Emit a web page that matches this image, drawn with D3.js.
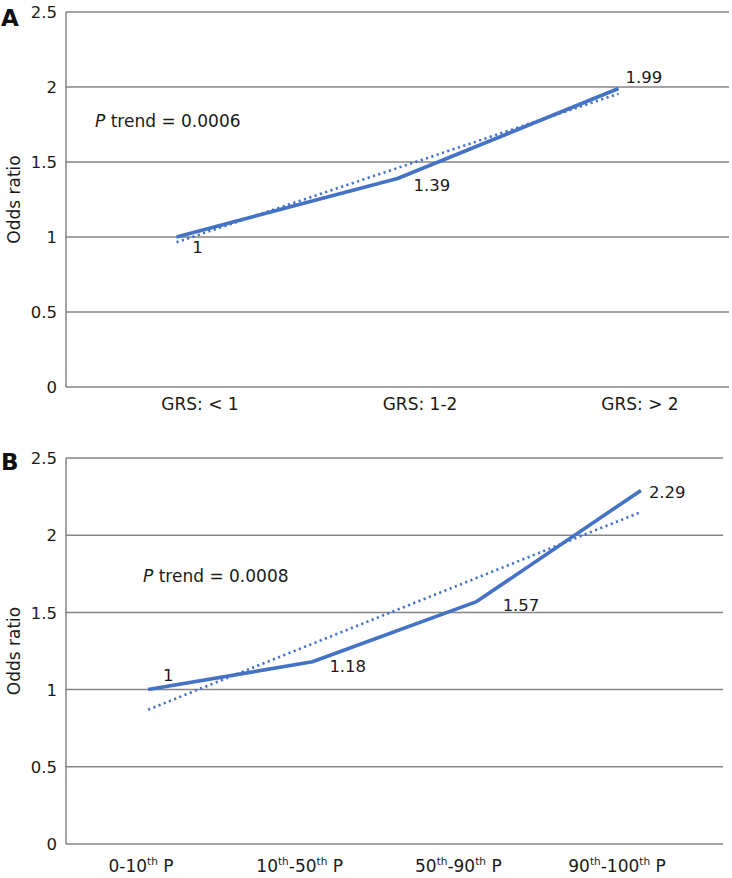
<!DOCTYPE html>
<html><head><meta charset="utf-8">
<script src="https://cdn.jsdelivr.net/npm/d3@7"></script>
<style>body{margin:0;background:#fff}svg{display:block}text{font-family:"DejaVu Sans",Verdana,sans-serif;fill:#1a1a1a}</style>
</head><body><svg id="c" width="732" height="878"></svg>
<script>
const yTicks = [0, 0.5, 1, 1.5, 2, 2.5];
const catsA = ["GRS: < 1", "GRS: 1-2", "GRS: > 2"];
const valsA = [1, 1.39, 1.99];
const trendA = [0.965, 1.955];
const pA = "0.0006";
const catsB = [["0-10", "th", " P"], ["10", "th", "-50", "th", " P"], ["50", "th", "-90", "th", " P"], ["90", "th", "-100", "th", " P"]];
const valsB = [1, 1.18, 1.57, 2.29];
const trendB = [0.87, 2.15];
const pB = "0.0008";

const svg = d3.select("#c");
const blue = "#4472C4", grid = "#858585";

function panel(cfg) {
  const g = svg.append("g");
  const n = cfg.cats.length;
  const x = d3.scalePoint().domain(d3.range(n)).range([cfg.x0 + (cfg.x1 - cfg.x0) / (2 * n), cfg.x1 - (cfg.x1 - cfg.x0) / (2 * n)]);
  const xl = d3.scalePoint().domain(d3.range(n)).range(cfg.labRange);
  const y = d3.scaleLinear().domain([0, 2.5]).range([cfg.yb, cfg.yt]);
  g.selectAll(".gl").data(yTicks).join("line")
    .attr("x1", cfg.x0).attr("x2", cfg.x1)
    .attr("y1", d => y(d)).attr("y2", d => y(d))
    .attr("stroke", grid).attr("stroke-width", 1.5);
  g.append("line").attr("x1", cfg.x0).attr("x2", cfg.x0).attr("y1", y(2.5)).attr("y2", y(0))
    .attr("stroke", grid).attr("stroke-width", 1.5);
  g.selectAll(".yt").data(yTicks).join("text")
    .attr("x", cfg.x0 - 9).attr("y", d => y(d)).attr("dy", "0.37em")
    .attr("text-anchor", "end").attr("font-size", 16.5).text(d => d);
  g.append("text").attr("transform", `translate(20,${(y(0) + y(2.5)) / 2}) rotate(-90)`)
    .attr("text-anchor", "middle").attr("font-size", 17).text("Odds ratio");
  g.append("text").attr("x", 1).attr("y", cfg.letterY).attr("font-size", 23).attr("font-weight", "bold")
    .style("fill", "#111").text(cfg.letter);
  cfg.cats.forEach((c, i) => {
    const t = g.append("text").attr("x", xl(i)).attr("y", cfg.labY).attr("text-anchor", "middle").attr("font-size", 17);
    if (typeof c === "string") { t.text(c); return; }
    let prevSup = false;
    c.forEach(part => {
      const sup = part === "th";
      t.append("tspan").attr("font-size", sup ? 10.5 : 17)
        .attr("dy", sup ? -7 : (prevSup ? 7 : 0)).text(part);
      prevSup = sup;
    });
  });
  const last = n - 1;
  g.append("line").attr("x1", x(0)).attr("y1", y(cfg.trend[0])).attr("x2", x(last)).attr("y2", y(cfg.trend[1]))
    .attr("stroke", blue).attr("stroke-width", 2.6).attr("stroke-dasharray", "2.2,3.4");
  g.append("path").datum(cfg.vals)
    .attr("d", d3.line().x((d, i) => x(i)).y(d => y(d)))
    .attr("fill", "none").attr("stroke", blue).attr("stroke-width", 3.6).attr("stroke-linejoin", "round");
  cfg.vals.forEach((v, i) => {
    g.append("text").attr("x", x(i) + cfg.lblOff[i][0]).attr("y", y(v) + cfg.lblOff[i][1])
      .attr("text-anchor", cfg.lblOff[i][2] || "start").attr("font-size", 16.5).text(v);
  });
  const pt = g.append("text").attr("x", cfg.pX).attr("y", cfg.pY).attr("font-size", 17);
  pt.append("tspan").attr("font-style", "italic").text("P");
  pt.append("tspan").text(" trend = " + cfg.p);
}

panel({letter: "A", letterY: 26, cats: catsA, vals: valsA, trend: trendA, p: pA,
  x0: 66, x1: 729, yt: 12, yb: 387, labY: 410, labRange: [200, 640], pX: 95, pY: 127,
  lblOff: [[21, 16, "middle"], [16, 12], [7, -6]]});
panel({letter: "B", letterY: 470, cats: catsB, vals: valsB, trend: trendB, p: pB,
  x0: 66, x1: 723, yt: 458, yb: 844, labY: 872, labRange: [141, 617], pX: 143, pY: 582,
  lblOff: [[20, -9, "middle"], [17, 10], [26, 9], [8, 8]]});
</script></body></html>
